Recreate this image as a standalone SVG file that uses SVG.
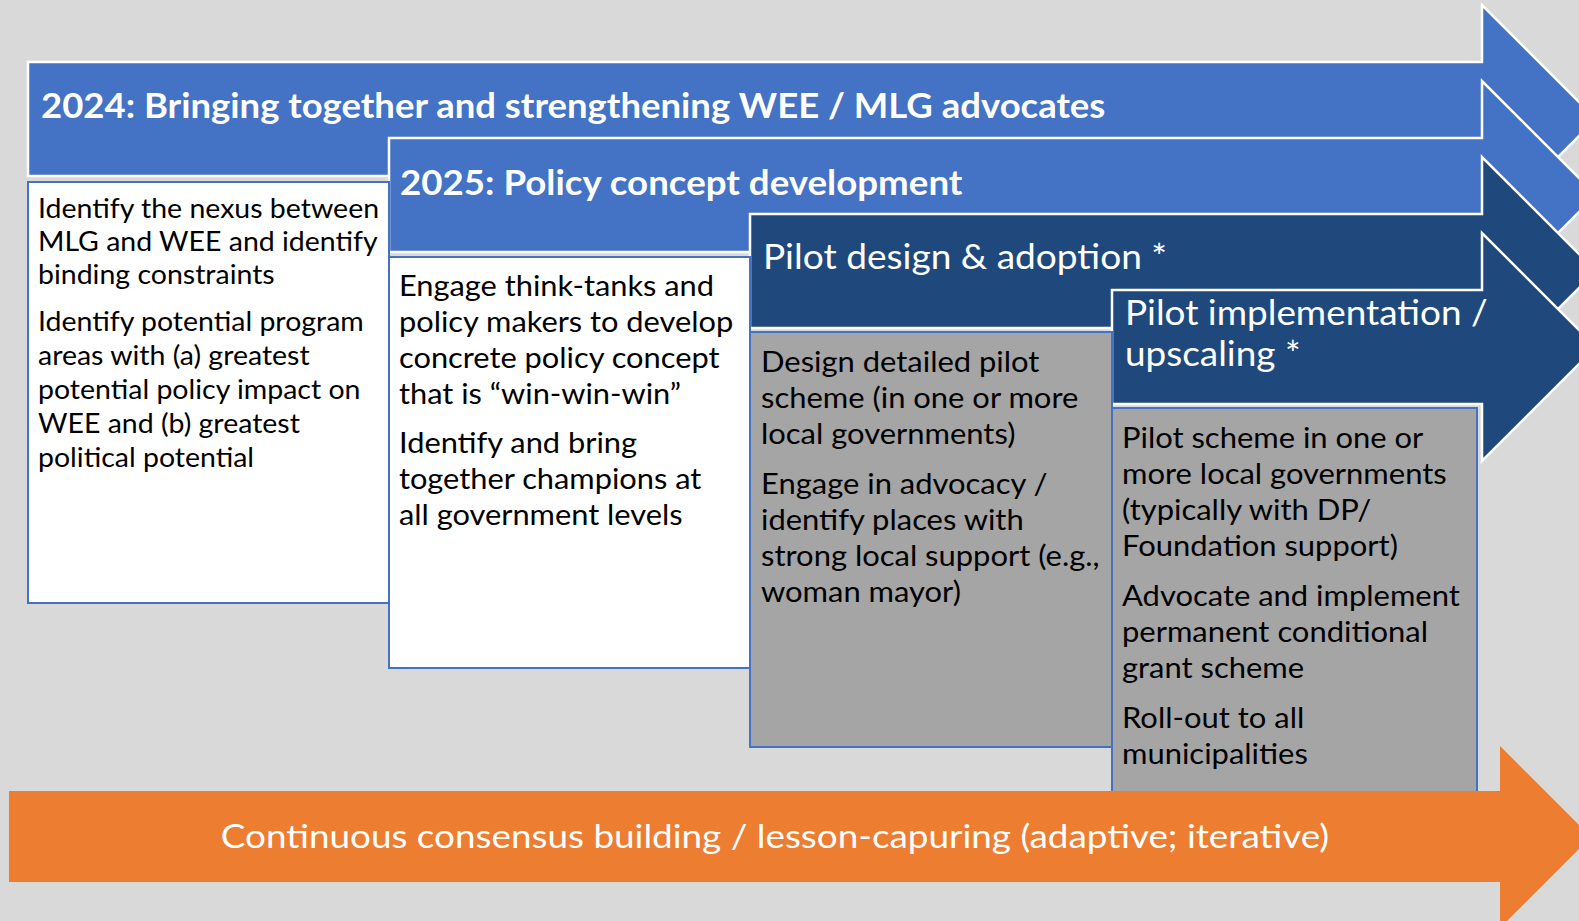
<svg xmlns="http://www.w3.org/2000/svg" width="1579" height="921" viewBox="0 0 1579 921">
  <style>
    .bg { fill: #D9D9D9; }
    .arrow { stroke: #FFFFFF; stroke-width: 2.5; stroke-linejoin: miter; }
    .light { fill: #4472C4; }
    .dark { fill: #1F497D; }
    .orange { fill: #ED7D31; }
    .box { stroke: #4472C4; stroke-width: 2; }
    .white-box { fill: #FFFFFF; }
    .grey-box { fill: #A5A5A5; }
    .title { font-family: Lato, "Liberation Sans", sans-serif; fill: #FFFFFF; font-size: 34px; }
    .bold { font-weight: 700; font-size: 33.5px; }
    .body { font-family: Lato, "Liberation Sans", sans-serif; fill: #000000; font-size: 26.5px; }
    .body-lg { font-size: 28px; }
    .banner { font-family: Lato, "Liberation Sans", sans-serif; fill: #FFFFFF; font-size: 33.5px; text-anchor: middle; }
  </style>
  <rect class="bg" x="0" y="0" width="1579" height="921"/>

  <!-- Phase 2024 -->
  <g id="phase-2024">
    <polygon class="arrow light" points="28,62 1482,62 1482,5 1596,119 1482,233 1482,176 28,176"/>
    <text class="title bold" x="41" y="118" transform="matrix(1.09 0 0 1 -3.69 0)">2024: Bringing together and strengthening WEE / MLG advocates</text>
  </g>

  <!-- Phase 2025 -->
  <g id="phase-2025">
    <polygon class="arrow light" points="389,138 1482,138 1482,81 1596,195 1482,309 1482,252 389,252"/>
    <text class="title bold" x="400" y="195" transform="matrix(1.095 0 0 1 -38 0)">2025: Policy concept development</text>
  </g>

  <g id="tasks-2024">
    <rect class="box white-box" x="28" y="182" width="361" height="421"/>
    <text class="body" x="38" transform="matrix(1.075 0 0 1 -2.85 0)">
      <tspan x="38" y="218">Identify the nexus between</tspan>
      <tspan x="38" y="251">MLG and WEE and identify</tspan>
      <tspan x="38" y="284">binding constraints</tspan>
      <tspan x="38" y="331">Identify potential program</tspan>
      <tspan x="38" y="365">areas with (a) greatest</tspan>
      <tspan x="38" y="399">potential policy impact on</tspan>
      <tspan x="38" y="433">WEE and (b) greatest</tspan>
      <tspan x="38" y="467">political potential</tspan>
    </text>
  </g>

  <!-- Pilot design -->
  <g id="pilot-design">
    <polygon class="arrow dark" points="750,214 1482,214 1482,157 1596,271 1482,385 1482,328 750,328"/>
    <text class="title" x="763" y="269" transform="matrix(1.09 0 0 1 -68.67 0)">Pilot design &amp; adoption *</text>
  </g>

  <g id="tasks-2025">
    <rect class="box white-box" x="389" y="257" width="361" height="411"/>
    <text class="body body-lg" x="399" transform="matrix(1.1 0 0 1 -39.9 0)">
      <tspan x="399" y="296">Engage think-tanks and</tspan>
      <tspan x="399" y="332">policy makers to develop</tspan>
      <tspan x="399" y="368">concrete policy concept</tspan>
      <tspan x="399" y="404">that is “win-win-win”</tspan>
      <tspan x="399" y="453">Identify and bring</tspan>
      <tspan x="399" y="489">together champions at</tspan>
      <tspan x="399" y="525">all government levels</tspan>
    </text>
  </g>

  <!-- Pilot implementation -->
  <g id="pilot-implementation">
    <polygon class="arrow dark" points="1112,290 1482,290 1482,233 1596,347 1482,461 1482,404 1112,404"/>
    <text class="title" x="1125" transform="matrix(1.085 0 0 1 -95.63 0)">
      <tspan x="1125" y="325">Pilot implementation /</tspan>
      <tspan x="1125" y="366">upscaling *</tspan>
    </text>
  </g>

  <g id="tasks-pilot-design">
    <rect class="box grey-box" x="750" y="332" width="362" height="415"/>
    <text class="body body-lg" x="761" transform="matrix(1.105 0 0 1 -79.9 0)">
      <tspan x="761" y="372">Design detailed pilot</tspan>
      <tspan x="761" y="408">scheme (in one or more</tspan>
      <tspan x="761" y="444">local governments)</tspan>
      <tspan x="761" y="494">Engage in advocacy /</tspan>
      <tspan x="761" y="530">identify places with</tspan>
      <tspan x="761" y="566">strong local support (e.g.,</tspan>
      <tspan x="761" y="602">woman mayor)</tspan>
    </text>
  </g>

  <g id="tasks-pilot-implementation">
    <rect class="box grey-box" x="1112" y="408" width="365" height="420"/>
    <text class="body body-lg" x="1122" transform="matrix(1.105 0 0 1 -117.81 0)">
      <tspan x="1122" y="448">Pilot scheme in one or</tspan>
      <tspan x="1122" y="484">more local governments</tspan>
      <tspan x="1122" y="520">(typically with DP/</tspan>
      <tspan x="1122" y="556">Foundation support)</tspan>
      <tspan x="1122" y="606">Advocate and implement</tspan>
      <tspan x="1122" y="642">permanent conditional</tspan>
      <tspan x="1122" y="678">grant scheme</tspan>
      <tspan x="1122" y="728">Roll-out to all</tspan>
      <tspan x="1122" y="764">municipalities</tspan>
    </text>
  </g>

  <!-- Continuous process banner -->
  <g id="consensus-building">
    <polygon class="orange" points="9,791 1500,791 1500,746 1591,837 1500,928 1500,882 9,882"/>
    <text class="banner" x="775" y="848" transform="matrix(1.1 0 0 1 -77.5 0)">Continuous consensus building / lesson-capuring (adaptive; iterative)</text>
  </g>
</svg>
